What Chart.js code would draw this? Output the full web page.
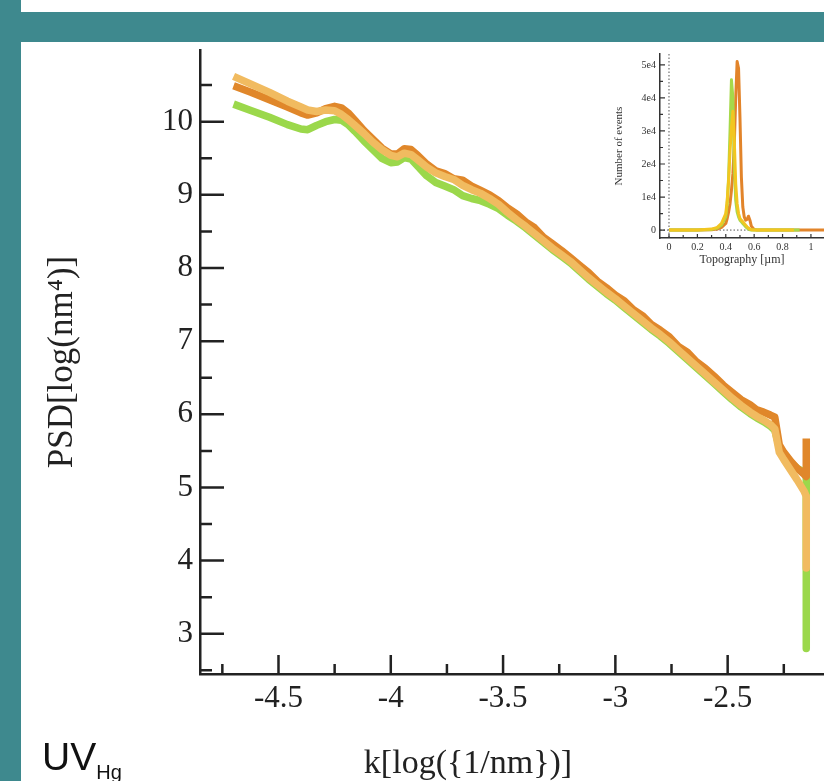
<!DOCTYPE html>
<html>
<head>
<meta charset="utf-8">
<script src="https://cdn.jsdelivr.net/npm/chart.js@4.4.1/dist/chart.umd.min.js"></script>
<style>
  html, body { margin: 0; padding: 0; background: #fff; }
  #page { position: relative; width: 824px; height: 781px; overflow: hidden; background: #fff; }
  .teal { position: absolute; background: #3e898e; }
  canvas { position: absolute; }
  #mainChart { left: 0; top: 0; }
  #insetChart { left: 590px; top: 42px; }
  #xTitle { position: absolute; left: 0; width: 936px; top: 745px; text-align: center;
    font: 34px "Liberation Serif", serif; line-height: 34px; color: #222; }
  #uvLabel { position: absolute; left: 42px; top: 737px; font: 39px "Liberation Sans", sans-serif;
    line-height: 39px; color: #111; white-space: nowrap; }
  #uvLabel sub { font-size: 20px; vertical-align: -9px; }
</style>
</head>
<body>
<div id="page">
  <div class="teal" style="left:0;top:0;width:21px;height:781px"></div>
  <div class="teal" style="left:0;top:12px;width:824px;height:30px"></div>
  <canvas id="mainChart" width="824" height="781"></canvas>
  <canvas id="insetChart" width="234" height="238"></canvas>
  <div id="xTitle">k[log({1/nm})]</div>
  <div id="uvLabel">UV<sub>Hg</sub></div>
</div>
<script>
// main PSD curves, x = k[log(1/nm)]
const kValues = [
  -4.70, -4.62, -4.54, -4.46, -4.40, -4.37, -4.33, -4.29, -4.25, -4.22,
  -4.19, -4.16, -4.12, -4.08, -4.04, -4.00, -3.97, -3.94, -3.91, -3.88,
  -3.84, -3.80, -3.76, -3.72, -3.68, -3.64, -3.60, -3.56, -3.52, -3.48,
  -3.44, -3.40, -3.36, -3.32, -3.28, -3.24, -3.20, -3.16, -3.12, -3.08,
  -3.04, -3.00, -2.96, -2.92, -2.88, -2.84, -2.80, -2.76, -2.72, -2.68,
  -2.64, -2.60, -2.56, -2.52, -2.48, -2.44, -2.40, -2.37, -2.34, -2.31,
  -2.29, -2.27, -2.25, -2.22, -2.19, -2.16, -2.15, -2.15
];
const psdTan = [
  10.62, 10.51, 10.40, 10.28, 10.20, 10.16, 10.14, 10.16, 10.15, 10.10,
  10.03, 9.95, 9.84, 9.72, 9.62, 9.54, 9.52, 9.57, 9.55, 9.48,
  9.38, 9.30, 9.25, 9.21, 9.13, 9.07, 9.02, 8.95, 8.87, 8.76,
  8.66, 8.57, 8.47, 8.37, 8.27, 8.18, 8.09, 7.98, 7.87, 7.77,
  7.67, 7.58, 7.48, 7.38, 7.28, 7.18, 7.09, 6.99, 6.88, 6.77,
  6.66, 6.55, 6.44, 6.33, 6.22, 6.12, 6.03, 5.97, 5.92, 5.86,
  5.80, 5.48, 5.38, 5.24, 5.10, 4.95, 4.88, 3.90
];
const psdOrange = [
  10.49, 10.40, 10.30, 10.20, 10.12, 10.09, 10.12, 10.18, 10.21, 10.19,
  10.12, 10.02, 9.88, 9.76, 9.64, 9.56, 9.56, 9.63, 9.62, 9.54,
  9.42, 9.33, 9.29, 9.22, 9.20, 9.12, 9.06, 9.00, 8.92, 8.82,
  8.74, 8.63, 8.55, 8.42, 8.33, 8.24, 8.14, 8.04, 7.94, 7.82,
  7.73, 7.63, 7.55, 7.43, 7.35, 7.23, 7.15, 7.06, 6.93, 6.85,
  6.72, 6.63, 6.52, 6.40, 6.30, 6.20, 6.13, 6.06, 6.03, 5.99,
  5.96, 5.58, 5.48, 5.36, 5.26, 5.18, 5.15, 5.67
];
const psdGreen = [
  10.24, 10.15, 10.06, 9.96, 9.90, 9.89, 9.95, 10.00, 10.03, 10.02,
  9.96, 9.87, 9.74, 9.62, 9.50, 9.44, 9.45, 9.51, 9.49, 9.39,
  9.26, 9.17, 9.12, 9.07, 8.99, 8.95, 8.92, 8.87, 8.81, 8.72,
  8.64, 8.55, 8.45, 8.35, 8.25, 8.16, 8.07, 7.96, 7.85, 7.75,
  7.65, 7.56, 7.46, 7.36, 7.26, 7.16, 7.07, 6.97, 6.86, 6.75,
  6.64, 6.53, 6.42, 6.31, 6.20, 6.10, 6.01, 5.95, 5.90, 5.84,
  5.78, 5.55, 5.45, 5.34, 5.26, 5.21, 5.20, 2.80
];
const yMajorTicks = [3, 4, 5, 6, 7, 8, 9, 10];
const yMinorTicks = [2.5, 3.5, 4.5, 5.5, 6.5, 7.5, 8.5, 9.5, 10.5];
const xMajorTicks = [-4.5, -4, -3.5, -3, -2.5];
const xMinorTicks = [-4.75, -4.25, -3.75, -3.25, -2.75, -2.25];

// inset histogram, x = topography [um]
const topoValues = [
  0, 0.1, 0.2, 0.3, 0.34, 0.37, 0.40, 0.41, 0.42, 0.43,
  0.44, 0.45, 0.46, 0.47, 0.48, 0.49, 0.50, 0.51, 0.52, 0.53,
  0.54, 0.55, 0.56, 0.57, 0.58, 0.60, 0.62, 0.70, 0.80, 0.88,
  0.92, 1.0, 1.1
];
const countsYellow = [
  0, 0, 0, 300, 800, 2000, 5000, 9000, 15000, 24000,
  31000, 36000, 27000, 14000, 8000, 5000, 3500, 3000, 2500, 2000,
  1500, 1000, 600, 300, 100, 0, 0, 0, 0, 0,
  null, null, null
];
const countsGreen = [
  0, 0, 0, 200, 600, 1500, 4000, 8000, 16000, 30000,
  45500, 40000, 20000, 9000, 5500, 4000, 3000, 2500, 2000, 1500,
  1000, 600, 300, 100, 0, 0, 0, 0, 0, 0,
  0, null, null
];
const countsOrange = [
  0, 0, 0, 100, 300, 800, 2000, 3500, 5500, 8000,
  12000, 17000, 26000, 40000, 51000, 49000, 34000, 16000, 7000, 4000,
  3000, 3200, 4200, 3000, 1200, 200, 0, 0, 0, 0,
  0, 0, 0
];
const insetYMajor = [0, 10000, 20000, 30000, 40000, 50000];
const insetYMinor = [5000, 15000, 25000, 35000, 45000];
const insetXMajor = [0, 0.2, 0.4, 0.6, 0.8, 1];
const insetXMinor = [0.1, 0.3, 0.5, 0.7, 0.9];

const pts = (xs, ys) => xs.map((x, i) => ({ x: x, y: ys[i] }));

// inward tick marks + dotted zero lines
const axisMarks = {
  id: 'axisMarks',
  beforeDatasetsDraw(chart, args, o) {
    if (!o.zeroLines) return;
    const { ctx, chartArea: a, scales: { x, y } } = chart;
    const px = x.getPixelForValue(0), py = y.getPixelForValue(0);
    ctx.save();
    ctx.strokeStyle = '#555';
    ctx.lineWidth = 1;
    ctx.setLineDash([1.5, 2]);
    ctx.beginPath();
    ctx.moveTo(px, a.top); ctx.lineTo(px, a.bottom);
    ctx.moveTo(a.left, py); ctx.lineTo(a.right, py);
    ctx.stroke();
    ctx.restore();
  },
  afterDraw(chart, args, o) {
    const { ctx, chartArea: a, scales: { x, y } } = chart;
    ctx.save();
    ctx.strokeStyle = o.color;
    ctx.lineWidth = o.width;
    ctx.beginPath();
    const yTick = (v, len) => { const p = y.getPixelForValue(v); ctx.moveTo(a.left, p); ctx.lineTo(a.left + len, p); };
    const xTick = (v, len) => { const p = x.getPixelForValue(v); ctx.moveTo(p, a.bottom); ctx.lineTo(p, a.bottom - len); };
    o.yMajor.forEach(v => yTick(v, o.yMajorLen));
    o.yMinor.forEach(v => yTick(v, o.yMinorLen));
    o.xMajor.forEach(v => xTick(v, o.xMajorLen));
    o.xMinor.forEach(v => xTick(v, o.xMinorLen));
    ctx.stroke();
    ctx.restore();
  }
};

const serif = '"Liberation Serif", "Times New Roman", serif';

new Chart(document.getElementById('mainChart'), {
  type: 'line',
  data: {
    datasets: [
      { data: pts(kValues, psdTan), borderColor: '#f1bb60', order: 0 },
      { data: pts(kValues, psdOrange), borderColor: '#e0872a', order: 1 },
      { data: pts(kValues, psdGreen), borderColor: '#9bd84b', order: 2 }
    ]
  },
  options: {
    responsive: false,
    animation: false,
    layout: { padding: { top: 50, left: 0, right: 0, bottom: 0 } },
    elements: {
      point: { radius: 0 },
      line: { borderWidth: 7.5, tension: 0, borderJoinStyle: 'round', fill: false }
    },
    scales: {
      x: {
        type: 'linear',
        min: -4.8495,
        max: -2.071,
        afterBuildTicks: s => { s.ticks = xMajorTicks.map(v => ({ value: v })); },
        afterFit: s => { s.height = 107; },
        grid: { display: false, drawTicks: false },
        border: { display: true, color: '#222', width: 2.5 },
        ticks: {
          padding: 6,
          color: '#222',
          font: { family: serif, size: 31 },
          maxRotation: 0,
          autoSkip: false,
          callback: v => String(v)
        }
      },
      y: {
        type: 'linear',
        min: 2.45,
        max: 10.98,
        afterBuildTicks: s => { s.ticks = yMajorTicks.map(v => ({ value: v })); },
        afterFit: s => { s.width = 200; },
        grid: { display: false, drawTicks: false },
        border: { display: true, color: '#222', width: 2.5 },
        ticks: {
          padding: 7,
          color: '#222',
          font: { family: serif, size: 31 },
          autoSkip: false,
          callback: v => String(v)
        },
        title: {
          display: true,
          text: 'PSD[log(nm\u2074)]',
          color: '#222',
          font: { family: serif, size: 35 },
          padding: { top: 42, bottom: 0 }
        }
      }
    },
    plugins: {
      legend: { display: false },
      tooltip: { enabled: false },
      axisMarks: {
        color: '#222', width: 2.5,
        yMajor: yMajorTicks, yMinor: yMinorTicks, yMajorLen: 24, yMinorLen: 12,
        xMajor: xMajorTicks, xMinor: xMinorTicks, xMajorLen: 19, xMinorLen: 10
      }
    }
  },
  plugins: [axisMarks]
});

new Chart(document.getElementById('insetChart'), {
  type: 'line',
  data: {
    datasets: [
      { data: pts(topoValues, countsYellow), borderColor: '#f2c620', order: 0 },
      { data: pts(topoValues, countsGreen), borderColor: '#a6d94a', order: 1 },
      { data: pts(topoValues, countsOrange), borderColor: '#e2842a', order: 2 }
    ]
  },
  options: {
    responsive: false,
    animation: false,
    spanGaps: false,
    layout: { padding: { top: 12, left: 0, right: 0, bottom: 0 } },
    elements: {
      point: { radius: 0 },
      line: { borderWidth: 3, tension: 0, borderJoinStyle: 'round', fill: false }
    },
    scales: {
      x: {
        type: 'linear',
        min: -0.0634,
        max: 1.092,
        afterBuildTicks: s => { s.ticks = insetXMajor.map(v => ({ value: v })); },
        afterFit: s => { s.height = 42; },
        grid: { display: false, drawTicks: false },
        border: { display: true, color: '#333', width: 1.5 },
        ticks: {
          padding: 3,
          color: '#333',
          font: { family: serif, size: 10 },
          maxRotation: 0,
          autoSkip: false,
          callback: v => String(v)
        },
        title: {
          display: true,
          text: 'Topography [\u00b5m]',
          color: '#333',
          font: { family: serif, size: 12 },
          padding: { top: 0, bottom: 13 }
        }
      },
      y: {
        type: 'linear',
        min: -2400,
        max: 53300,
        afterBuildTicks: s => { s.ticks = insetYMajor.map(v => ({ value: v })); },
        afterFit: s => { s.width = 70; },
        grid: { display: false, drawTicks: false },
        border: { display: true, color: '#333', width: 1.5 },
        ticks: {
          padding: 4,
          color: '#333',
          font: { family: serif, size: 10 },
          autoSkip: false,
          callback: v => v === 0 ? '0' : (v / 10000) + 'e4'
        },
        title: {
          display: true,
          text: 'Number of events',
          color: '#333',
          font: { family: serif, size: 11 },
          padding: { top: 23, bottom: 0 }
        }
      }
    },
    plugins: {
      legend: { display: false },
      tooltip: { enabled: false },
      axisMarks: {
        color: '#333', width: 1.2, zeroLines: true,
        yMajor: insetYMajor, yMinor: insetYMinor, yMajorLen: 5, yMinorLen: 3,
        xMajor: insetXMajor, xMinor: insetXMinor, xMajorLen: 4, xMinorLen: 3
      }
    }
  },
  plugins: [axisMarks]
});
</script>
</body>
</html>
